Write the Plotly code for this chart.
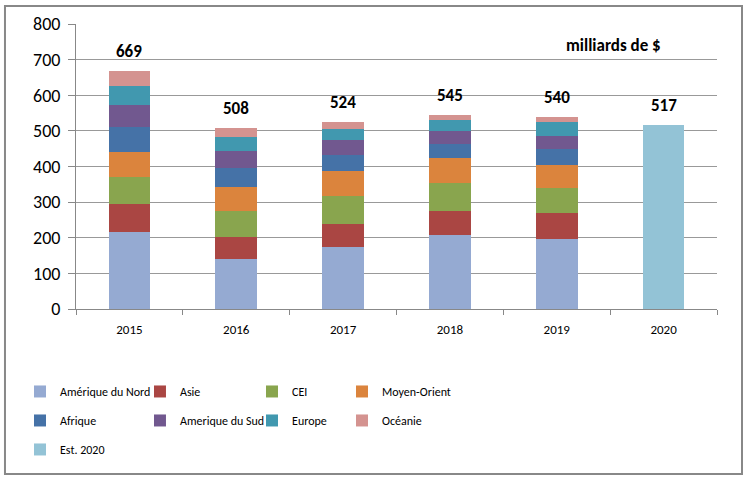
import plotly.graph_objects as go

years = ["2015", "2016", "2017", "2018", "2019", "2020"]
amerique_nord = [217, 140, 175, 208, 196, None]
asie = [78, 62, 64, 67, 73, None]
cei = [75, 73, 77, 78, 71, None]
moyen_orient = [72, 68, 72, 72, 65, None]
afrique = [68, 54, 44, 39, 44, None]
amerique_sud = [62, 47, 41, 36, 38, None]
europe = [55, 39, 33, 31, 39, None]
oceanie = [42, 25, 18, 14, 14, None]
est_2020 = [None, None, None, None, None, 517]
totals = [669, 508, 524, 545, 540, 517]

series = [
    ("Amérique du Nord", amerique_nord, "#95AAD2", "legend"),
    ("Asie", asie, "#AA4643", "legend2"),
    ("CEI", cei, "#89A54E", "legend3"),
    ("Moyen-Orient", moyen_orient, "#DB843D", "legend4"),
    ("Afrique", afrique, "#4572A7", "legend"),
    ("Amerique du Sud", amerique_sud, "#71588F", "legend2"),
    ("Europe", europe, "#4198AF", "legend3"),
    ("Océanie", oceanie, "#D49390", "legend4"),
    ("Est. 2020", est_2020, "#93C3D6", "legend"),
]

FONT = "Carlito, 'Liberation Sans Narrow', Lato, sans-serif"

fig = go.Figure()
for name, vals, col, lg in series:
    fig.add_trace(go.Bar(x=years, y=vals, name=name, legend=lg, legendgroup=name,
                         marker=dict(color=col, line=dict(width=0))))

for i, t in enumerate(totals):
    fig.add_annotation(x=i, y=t, text=f"<b>{t}</b>", showarrow=False, yanchor="bottom",
                       yshift=7, font=dict(size=17, color="black", family=FONT))

fig.add_annotation(x=0.839, y=0.926, xref="paper", yref="paper", text="<b>milliards de $</b>",
                   xanchor="center", yanchor="middle",
                   showarrow=False, font=dict(size=17, color="black", family=FONT))

fig.add_shape(type="rect", xref="paper", yref="paper", x0=-0.1108, x1=1.039, y0=-0.579, y1=1.063,
              line=dict(color="#888888", width=2), fillcolor="rgba(0,0,0,0)")

def leg(xp):
    return dict(orientation="v", x=xp, y=-0.2385, xanchor="left", yanchor="top",
                traceorder="grouped", tracegroupgap=10,
                font=dict(size=12, family=FONT), bgcolor="rgba(0,0,0,0)")

fig.update_layout(
    barmode="stack",
    bargap=0.61,
    width=748, height=482,
    margin=dict(l=76, r=31, t=24, b=173),
    paper_bgcolor="white", plot_bgcolor="white",
    font=dict(family=FONT, size=14, color="black"),
    showlegend=True,
    legend=leg(-0.0874),
    legend2=leg(0.0998),
    legend3=leg(0.2746),
    legend4=leg(0.415),
    xaxis=dict(type="category", range=[-0.5, 5.5], showline=True, linecolor="#888888", linewidth=1,
               ticks="outside", tickson="boundaries", ticklen=5, tickcolor="#888888",
               tickfont=dict(size=13), ticklabelstandoff=8),
    yaxis=dict(range=[0, 800], dtick=100, showline=True, linecolor="#888888", linewidth=1,
               ticks="outside", ticklen=7, tickcolor="#888888", showgrid=True, gridcolor="#999999",
               gridwidth=1, tickfont=dict(size=18), zeroline=False, ticklabelstandoff=4),
)

fig.write_html("out.html", config={"displayModeBar": False},
               post_script="document.body.style.margin='0';")
